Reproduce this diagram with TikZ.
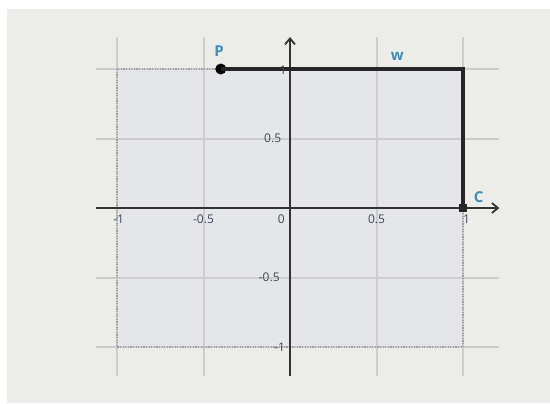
\documentclass[tikz,border=0pt]{standalone}
\usepackage{fontspec}
\setmainfont{Open Sans}
\usetikzlibrary{arrows.meta}
\definecolor{panel}{HTML}{ECECE8}
\definecolor{sq}{HTML}{E5E6E9}
\definecolor{gridc}{HTML}{CDCDCD}
\definecolor{axisc}{HTML}{333333}
\definecolor{labc}{HTML}{3E4658}
\definecolor{bluec}{HTML}{3A8FC0}
\tikzset{
  gridline/.style={draw=gridc,line width=1pt},
  axisline/.style={draw=axisc,line width=0.9pt,-{Straight Barb[length=3pt,width=5pt]}},
  dotline/.style={draw=gray!75,line width=1pt,dash pattern=on 0.6pt off 0.7pt},
  pathline/.style={draw=black!85,line width=1.6pt},
  ticklab/.style={font=\fontsize{6}{7}\selectfont,text=labc,inner sep=0pt},
  ptlab/.style={font=\fontsize{7.5}{8}\selectfont\bfseries,text=bluec,inner sep=0pt}
}
\begin{document}
\begin{tikzpicture}[x=0.5pt,y=-0.5pt]
\useasboundingbox (0,0) rectangle (550,403);
\fill[white] (0,0) rectangle (550,403);
\fill[panel] (7,9) rectangle (550,403);
\begin{scope}[shift={(290,208)},x=86.5pt,y=69.5pt]
  \fill[sq] (-1,-1) rectangle (1,1);
  \foreach \v in {-1,-0.5,0.5,1} {
    \draw[gridline] (\v,-1.21) -- (\v,1.23);
    \draw[gridline] (-1.12,\v) -- (1.21,\v);
  }
  \draw[dotline] (-0.4,1) -- (-1,1) -- (-1,-1) -- (1,-1) -- (1,0);
  \coordinate (xs) at (-1.12,0);
  \coordinate (xe) at (1.21,0);
  \coordinate (ys) at (0,-1.21);
  \coordinate (ye) at (0,1.23);
  \draw[axisline] (xs) -- (xe);
  \draw[axisline] (ys) -- (ye);
  \coordinate (corner) at (1,1);
  \node[circle,fill=black,inner sep=0pt,minimum size=5.5pt] (P) at (-0.4,1) {};
  \node[rectangle,fill=black!85,inner sep=0pt,minimum size=4pt] (C) at (1,0) {};
  \draw[pathline] (P.center) -- (corner) -- (C.center);
  \node[ptlab] (Plab) at (-0.41,1.13) {P};
  \node[ptlab] (wlab) at (0.62,1.09) {w};
  \node[ptlab] (Clab) at (1.09,0.08) {C};
  \node[ticklab] (xm1) at (-0.99,-0.08) {-1};
  \node[ticklab] (xm05) at (-0.5,-0.08) {-0.5};
  \node[ticklab] (x0) at (-0.05,-0.08) {0};
  \node[ticklab] (x05) at (0.5,-0.08) {0.5};
  \node[ticklab] (x1) at (1.02,-0.08) {1};
  \node[ticklab] (y1) at (-0.04,0.99) {1};
  \node[ticklab] (y05) at (-0.1,0.5) {0.5};
  \node[ticklab] (ym05) at (-0.12,-0.5) {-0.5};
  \node[ticklab] (ym1) at (-0.06,-1) {-1};
\end{scope}
\end{tikzpicture}
\end{document}
